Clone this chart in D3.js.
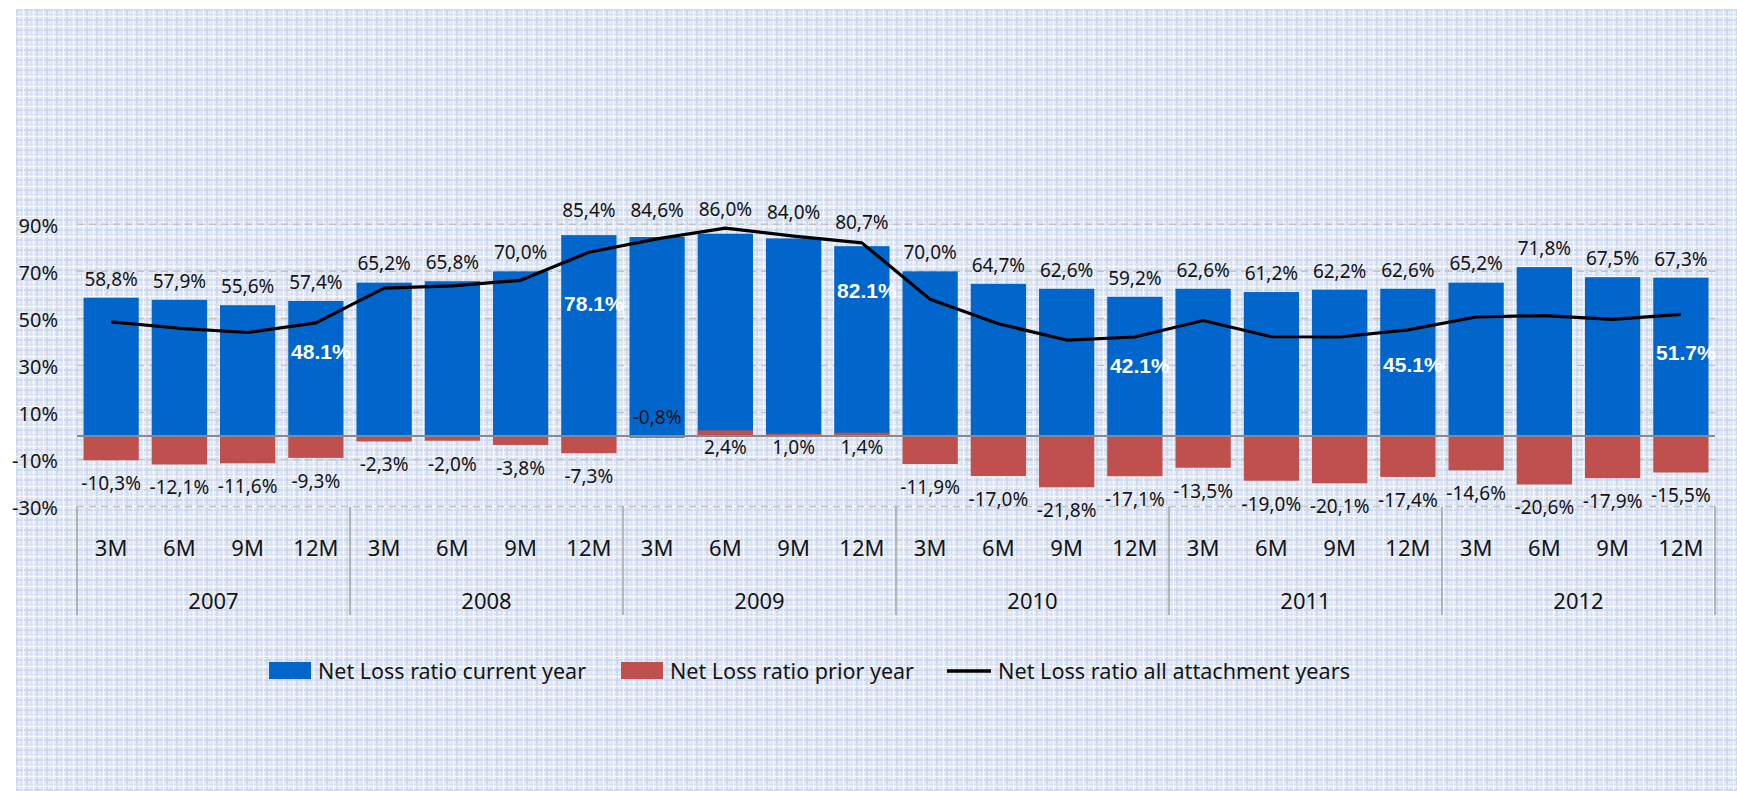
<!DOCTYPE html>
<html>
<head>
<meta charset="utf-8">
<script src="https://cdn.jsdelivr.net/npm/d3@7"></script>
<style>
  html, body { margin: 0; padding: 0; background: #ffffff; }
  svg { display: block; }
</style>
</head>
<body>
<svg id="chart" width="1737" height="791"></svg>
<script>
// ---------- DATA ----------
const years = ["2007", "2008", "2009", "2010", "2011", "2012"];
const periods = ["3M", "6M", "9M", "12M"];
const currentYear = [58.8, 57.9, 55.6, 57.4, 65.2, 65.8, 70.0, 85.4, 84.6, 86.0, 84.0, 80.7,
                     70.0, 64.7, 62.6, 59.2, 62.6, 61.2, 62.2, 62.6, 65.2, 71.8, 67.5, 67.3];
const priorYear = [-10.3, -12.1, -11.6, -9.3, -2.3, -2.0, -3.8, -7.3, -0.8, 2.4, 1.0, 1.4,
                   -11.9, -17.0, -21.8, -17.1, -13.5, -19.0, -20.1, -17.4, -14.6, -20.6, -17.9, -15.5];
const allYears = [48.5, 45.8, 44.0, 48.1, 62.9, 63.8, 66.2, 78.1, 83.8, 88.4, 85.0, 82.1,
                  58.1, 47.7, 40.8, 42.1, 49.1, 42.2, 42.1, 45.1, 50.6, 51.2, 49.6, 51.7];
const yearEndLabels = ["48.1%", "78.1%", "82.1%", "42.1%", "45.1%", "51.7%"];
const yTicks = [-30, -10, 10, 30, 50, 70, 90];
const seriesNames = ["Net Loss ratio current year", "Net Loss ratio prior year", "Net Loss ratio all attachment years"];

// ---------- LAYOUT / STYLE ----------
const colors = { current: "#0066cc", prior: "#c0504d", line: "#000000", text: "#141414" };
const topLabelGap = [19, 19, 19, 19, 19, 19, 19, 24.5, 26.5, 24.5, 26.3, 23.7,
                     19, 19, 19, 19, 19, 19, 19, 19, 19, 19, 19, 19];
const yearEndLabelDy = [29, 51, 48, 28, 35, 38];

const svg = d3.select("#chart");

// background pattern
const defs = svg.append("defs");
const pat = defs.append("pattern").attr("id", "plaid")
  .attr("patternUnits", "userSpaceOnUse").attr("width", 10).attr("height", 10)
  .attr("x", 16).attr("y", 9);
pat.append("rect").attr("width", 10).attr("height", 10).attr("fill", "#e8eef8");
pat.append("rect").attr("x", 0).attr("width", 2).attr("height", 10).attr("fill", "#cfd9ee");
pat.append("rect").attr("y", 0).attr("width", 10).attr("height", 2).attr("fill", "#cfd9ee");
pat.append("rect").attr("x", 5).attr("width", 1).attr("height", 10).attr("fill", "#d8e1f2");
pat.append("rect").attr("y", 5).attr("width", 10).attr("height", 1).attr("fill", "#d8e1f2");
pat.append("rect").attr("x", 7).attr("width", 1).attr("height", 10).attr("fill", "#f6f8fd");
pat.append("rect").attr("y", 7).attr("width", 10).attr("height", 1).attr("fill", "#f6f8fd");
pat.append("rect").attr("x", 7).attr("y", 7).attr("width", 1).attr("height", 1).attr("fill", "#ffffff");

svg.append("rect").attr("x", 16).attr("y", 9).attr("width", 1737 - 16).attr("height", 791 - 9)
  .attr("fill", "url(#plaid)");

// scales
const cats = [];
years.forEach(y => periods.forEach(p => cats.push(y + "|" + p)));
const x = d3.scaleBand().domain(cats).range([77, 1715]).paddingInner(0.19).paddingOuter(0.095);
const y = d3.scaleLinear().domain([-30, 90]).range([506.6, 224.3]);
const xc = i => x(cats[i]) + x.bandwidth() / 2;

// gridlines
svg.append("g").selectAll("line").data(yTicks).join("line")
  .attr("x1", 77).attr("x2", 1715)
  .attr("y1", d => y(d)).attr("y2", d => y(d))
  .attr("stroke", "#c3c3c3").attr("stroke-width", 1.5).attr("stroke-dasharray", "7,5");

// y axis labels
const yAxis = d3.axisLeft(y).tickValues(yTicks).tickSize(0).tickPadding(0).tickFormat(d => d + "%");
const yg = svg.append("g").attr("transform", "translate(58,0)").call(yAxis);
yg.select(".domain").remove();
yg.selectAll("text").attr("font-family", "Noto Sans").attr("font-size", 20).attr("fill", colors.text)
  .attr("dy", "0.4em");

// blue bars
svg.append("g").selectAll("rect").data(currentYear).join("rect")
  .attr("x", (d, i) => x(cats[i])).attr("width", x.bandwidth())
  .attr("y", d => y(Math.max(0, d))).attr("height", d => Math.abs(y(d) - y(0)))
  .attr("fill", colors.current);

// red bars
svg.append("g").selectAll("rect").data(priorYear).join("rect")
  .attr("x", (d, i) => x(cats[i])).attr("width", x.bandwidth())
  .attr("y", d => y(Math.max(0, d))).attr("height", d => Math.abs(y(d) - y(0)))
  .attr("fill", colors.prior);

// zero line
svg.append("line").attr("x1", 77).attr("x2", 1715).attr("y1", y(0)).attr("y2", y(0))
  .attr("stroke", "#8a8a8a").attr("stroke-width", 2);

// line series
const lineGen = d3.line().x((d, i) => xc(i)).y(d => y(d));
svg.append("path").datum(allYears).attr("d", lineGen)
  .attr("fill", "none").attr("stroke", colors.line).attr("stroke-width", 3.2)
  .attr("stroke-linejoin", "round");

const fmt = v => d3.format(".1f")(v).replace("\u2212", "-").replace(".", ",") + "%";

// top labels (current year)
svg.append("g").selectAll("text").data(currentYear).join("text")
  .attr("x", (d, i) => xc(i)).attr("y", (d, i) => y(d) - topLabelGap[i])
  .attr("dy", "0.36em").attr("text-anchor", "middle")
  .attr("font-family", "Noto Sans").attr("font-size", 19).attr("fill", colors.text)
  .text(d => fmt(d));

// bottom labels (prior year)
svg.append("g").selectAll("text").data(priorYear).join("text")
  .attr("x", (d, i) => xc(i))
  .attr("y", d => d >= 0 ? y(0) + 11 : (d > -1 ? y(0) - 19 : y(d) + 23))
  .attr("dy", "0.36em").attr("text-anchor", "middle")
  .attr("font-family", "Noto Sans").attr("font-size", 19).attr("fill", colors.text)
  .text(d => fmt(d));

// year-end white labels
svg.append("g").selectAll("text").data(yearEndLabels).join("text")
  .attr("x", (d, i) => xc(i * 4 + 3) + 5)
  .attr("y", (d, i) => y(allYears[i * 4 + 3]) + yearEndLabelDy[i])
  .attr("dy", "0.36em").attr("text-anchor", "middle")
  .attr("font-family", "Liberation Sans").attr("font-weight", "bold").attr("font-size", 21)
  .attr("fill", "#ffffff")
  .text(d => d);

// category axis: periods
svg.append("g").selectAll("text").data(cats).join("text")
  .attr("x", (d, i) => xc(i)).attr("y", 548).attr("dy", "0.36em").attr("text-anchor", "middle")
  .attr("font-family", "Noto Sans").attr("font-size", 22).attr("fill", colors.text)
  .text(d => d.split("|")[1]);

// year labels
svg.append("g").selectAll("text").data(years).join("text")
  .attr("x", (d, i) => (x(cats[i * 4]) + x(cats[i * 4 + 3]) + x.bandwidth()) / 2)
  .attr("y", 601).attr("dy", "0.36em").attr("text-anchor", "middle")
  .attr("font-family", "Noto Sans").attr("font-size", 22).attr("fill", colors.text)
  .text(d => d);

// group separators
const sepX = d3.range(years.length + 1).map(i => 77 + i * x.step() * 4);
svg.append("g").selectAll("line").data(sepX).join("line")
  .attr("x1", d => d).attr("x2", d => d).attr("y1", 506.6).attr("y2", 615)
  .attr("stroke", "#a3a3a3").attr("stroke-width", 1.5);

// legend
const lg = svg.append("g").attr("font-family", "Noto Sans").attr("font-size", 21).attr("fill", colors.text);
lg.append("rect").attr("x", 269).attr("y", 662).attr("width", 42).attr("height", 17).attr("fill", colors.current);
lg.append("text").attr("x", 318).attr("y", 671).attr("dy", "0.36em").text(seriesNames[0])
  .attr("textLength", 268).attr("lengthAdjust", "spacingAndGlyphs");
lg.append("rect").attr("x", 621).attr("y", 662).attr("width", 42).attr("height", 17).attr("fill", colors.prior);
lg.append("text").attr("x", 670).attr("y", 671).attr("dy", "0.36em").text(seriesNames[1])
  .attr("textLength", 244).attr("lengthAdjust", "spacingAndGlyphs");
lg.append("line").attr("x1", 947).attr("x2", 991).attr("y1", 671).attr("y2", 671)
  .attr("stroke", colors.line).attr("stroke-width", 3.5);
lg.append("text").attr("x", 998).attr("y", 671).attr("dy", "0.36em").text(seriesNames[2])
  .attr("textLength", 352).attr("lengthAdjust", "spacingAndGlyphs");
</script>
</body>
</html>
